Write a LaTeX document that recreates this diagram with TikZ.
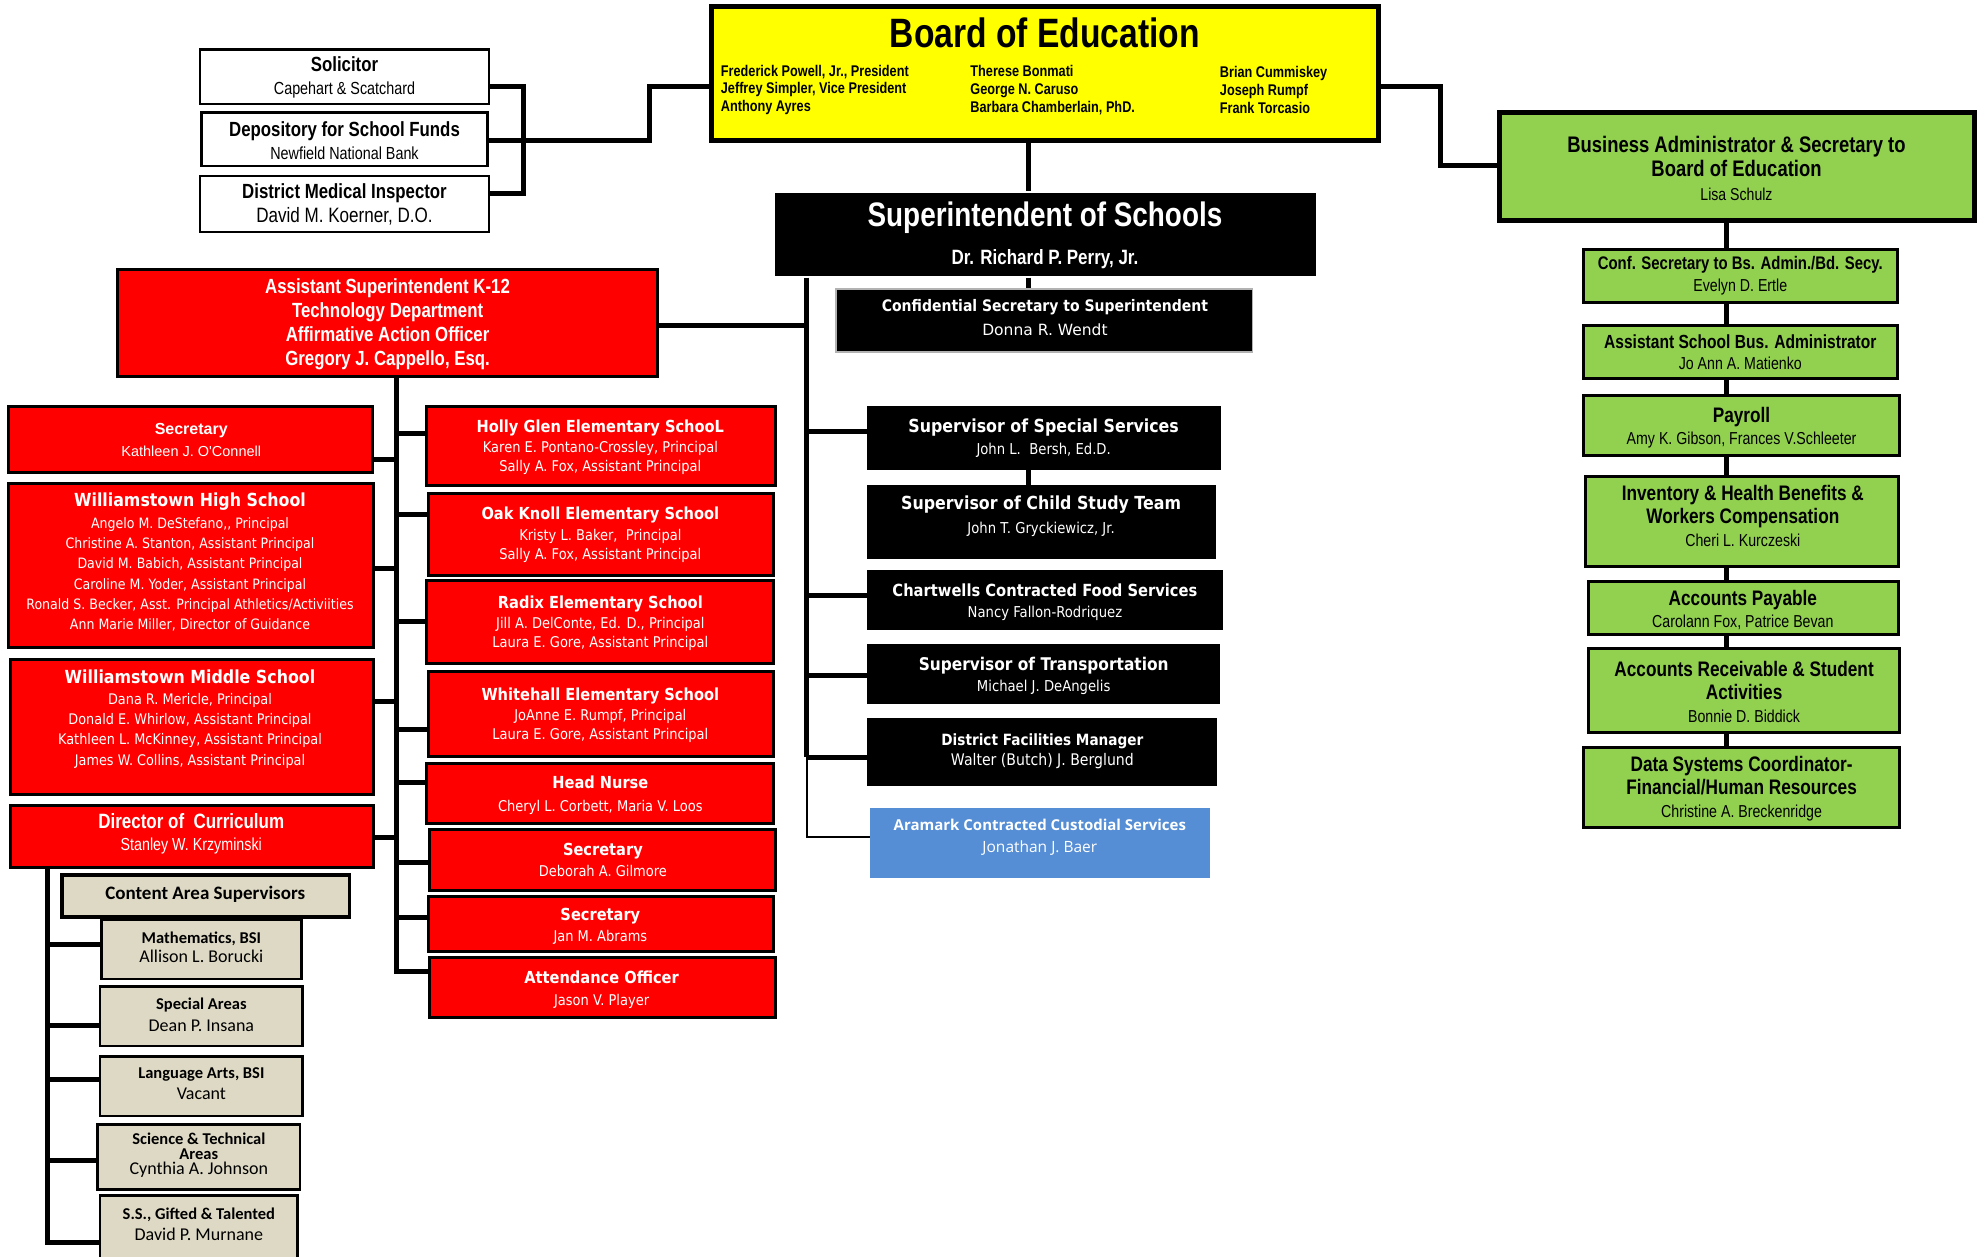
\documentclass[tikz,border=0pt]{standalone}
\usepackage{fontspec}
\usetikzlibrary{fit,backgrounds}
\newfontfamily\fnnar[FakeStretch=0.82]{Liberation Sans}
\newfontfamily\fnari{Liberation Sans}
\newfontfamily\fntah[FakeStretch=0.88]{DejaVu Sans}
\newfontfamily\fnver{DejaVu Sans}
\newfontfamily\fncal{Carlito}
\newfontfamily\fnopn{Open Sans}
\definecolor{bred}{HTML}{FF0000}
\definecolor{byel}{HTML}{FFFF00}
\definecolor{bgrn}{HTML}{92D050}
\definecolor{bbei}{HTML}{DDD9C4}
\definecolor{bblu}{HTML}{558ED5}
\newcommand\fNB[1]{\fnnar\bfseries\fontsize{#1}{#1}\selectfont}
\newcommand\fNR[1]{\fnnar\fontsize{#1}{#1}\selectfont}
\newcommand\fAB[1]{\fnari\bfseries\fontsize{#1}{#1}\selectfont}
\newcommand\fAR[1]{\fnari\fontsize{#1}{#1}\selectfont}
\newcommand\fTB[1]{\fntah\bfseries\fontsize{#1}{#1}\selectfont}
\newcommand\fTR[1]{\fntah\fontsize{#1}{#1}\selectfont}
\newcommand\fVR[1]{\fnver\fontsize{#1}{#1}\selectfont}
\newcommand\fCB[1]{\fncal\bfseries\fontsize{#1}{#1}\selectfont}
\newcommand\fCR[1]{\fncal\fontsize{#1}{#1}\selectfont}
\newcommand\fOB[1]{\fnopn\bfseries\fontsize{#1}{#1}\selectfont}
\newcommand\fOR[1]{\fnopn\fontsize{#1}{#1}\selectfont}
\newcommand\pitch[1]{\fontsize{10}{#1}\selectfont}
\begin{document}
\begin{tikzpicture}[x=1.2666pt, y=-1.2666pt,
  box/.style={draw=black, line width=3pt, inner sep=0pt, line join=miter},
  whb/.style={box, line width=2.5pt, fill=white},
  yelb/.style={box, line width=5pt, fill=byel},
  grnb/.style={box, fill=bgrn},
  redb/.style={box, fill=bred},
  blkb/.style={box, fill=black},
  beib/.style={box, line width=2.5pt, fill=bbei},
  blub/.style={inner sep=0pt, fill=bblu},
  wt/.style={align=center, inner sep=0pt, text=white},
  bt/.style={align=center, inner sep=0pt, text=black},
  conn/.style={line width=5pt, line join=miter},
  thin/.style={line width=2pt, line join=miter}]
\useasboundingbox (0,0) rectangle (1568,992);

% ---------------- top left advisers
\node[whb, fit={(158,39)(386,82)}] (sol) {};
\node[bt, font=\pitch{22.8}] (solt) at (272,61) {{\fNB{20.5}Solicitor}\\{\fNR{17.5}Capehart \& Scatchard}};
\node[whb, fit={(159,89)(385,131)}] (dep) {};
\node[bt, font=\pitch{22.8}] (dept) at (272,111) {{\fNB{20.5}Depository for School Funds}\\{\fNR{17.5}Newfield National Bank}};
\node[whb, fit={(158,139)(386,183)}] (med) {};
\node[bt, font=\pitch{24}] (medt) at (272,161.5) {{\fNB{20.5}District Medical Inspector}\\{\fNR{20.8}David M. Koerner, D.O.}};

% ---------------- board
\node[yelb, fit={(562,5)(1088,111)}] (boe) {};
\node[bt, font=\fNB{41}] (boet) at (825,26) {Board of Education};
\node[bt, align=left, anchor=west, font={\fnnar\bfseries\fontsize{15.5}{17.7}\selectfont}] (boe1) at (569,71) {Frederick Powell, Jr., President\\Jeffrey Simpler, Vice President\\Anthony Ayres};
\node[bt, align=left, anchor=west, font={\fnnar\bfseries\fontsize{15.5}{17.7}\selectfont}] (boe2) at (766,71) {Therese Bonmati\\George N. Caruso\\Barbara Chamberlain, PhD.};
\node[bt, align=left, anchor=west, font={\fnnar\bfseries\fontsize{15.5}{17.7}\selectfont}] (boe3) at (963,71) {Brian Cummiskey\\Joseph Rumpf\\Frank Torcasio};

% ---------------- business column
\node[grnb, line width=4.5pt, fit={(1184,89)(1559,174)}] (bus) {};
\node[bt, font=\pitch{24}] (bust) at (1371,133) {{\fNB{22.5}Business Administrator \& Secretary to}\\{\fNB{22.5}Board of Education}\\{\fNR{17.2}Lisa Schulz}};
\node[grnb, fit={(1250,197)(1498,239)}] (cse) {};
\node[bt, font=\pitch{21.5}] (cset) at (1374,217.5) {{\fNB{18.2}Conf. Secretary to Bs. Admin./Bd. Secy.}\\{\fNR{17.3}Evelyn D. Ertle}};
\node[grnb, fit={(1250,257)(1498,299)}] (asb) {};
\node[bt, font=\pitch{21.5}] (asbt) at (1374,278) {{\fNB{19}Assistant School Bus. Administrator}\\{\fNR{17.3}Jo Ann A. Matienko}};
\node[grnb, fit={(1250,312)(1500,360)}] (pay) {};
\node[bt, font=\pitch{21.5}] (payt) at (1375,337.5) {{\fNB{21}Payroll}\\{\fNR{17.3}Amy K. Gibson, Frances V.Schleeter}};
\node[grnb, fit={(1252,376)(1499,447)}] (inv) {};
\node[bt, font=\pitch{23}] (invt) at (1376,407) {{\fNB{21}Inventory \& Health Benefits \&}\\{\fNB{21}Workers Compensation}\\{\fNR{17.3}Cheri L. Kurczeski}};
\node[grnb, fit={(1254,459)(1499,501)}] (acp) {};
\node[bt, font=\pitch{21.5}] (acpt) at (1376,481.5) {{\fNB{21}Accounts Payable}\\{\fNR{17.3}Carolann Fox, Patrice Bevan}};
\node[grnb, fit={(1254,512)(1500,578)}] (acr) {};
\node[bt, font=\pitch{23}] (acrt) at (1377,546) {{\fNB{21}Accounts Receivable \& Student}\\{\fNB{21}Activities}\\{\fNR{17.3}Bonnie D. Biddick}};
\node[grnb, fit={(1250,590)(1500,653)}] (dsc) {};
\node[bt, font=\pitch{23}] (dsct) at (1375,623) {{\fNB{21}Data Systems Coordinator-}\\{\fNB{21}Financial/Human Resources}\\{\fNR{17.3}Christine A. Breckenridge}};

% ---------------- superintendent column
\node[blkb, draw=none, fit={(612,152)(1039,218)}] (sup) {};
\node[wt, font=\pitch{38}] (supt) at (825,186) {{\fNB{34}Superintendent of Schools}\\{\fNB{20.7}Dr. Richard P. Perry, Jr.}};
\node[blkb, draw=gray!60, line width=1.5pt, fit={(660,228)(989,278)}] (csec) {};
\node[wt, font=\pitch{24}] (csect) at (825,250.5) {{\fTB{15.9}Confidential Secretary to Superintendent}\\{\fVR{15.5}Donna R. Wendt}};
\node[blkb, fit={(686,322)(963,370)}] (sss) {};
\node[wt, font=\pitch{22.8}] (ssst) at (824,346) {{\fTB{18}Supervisor of Special Services}\\{\fTR{15}John L.\ \ Bersh, Ed.D.}};
\node[blkb, fit={(686,384)(959,440)}] (cst) {};
\node[wt, font=\pitch{24}] (cstt) at (822,407.5) {{\fTB{18}Supervisor of Child Study Team}\\{\fTR{15}John T. Gryckiewicz, Jr.}};
\node[blkb, fit={(686,451)(964,496)}] (chw) {};
\node[wt, font=\pitch{21.5}] (chwt) at (825,475.5) {{\fTB{16.7}Chartwells Contracted Food Services}\\{\fTR{15}Nancy Fallon-Rodriquez}};
\node[blkb, fit={(686,510)(962,555)}] (trn) {};
\node[wt, font=\pitch{21.5}] (trnt) at (824,533.5) {{\fTB{17.5}Supervisor of Transportation}\\{\fTR{15}Michael J. DeAngelis}};
\node[blkb, fit={(686,568)(960,619)}] (fac) {};
\node[wt, font=\pitch{20.3}] (fact) at (823,593) {{\fTB{15.5}District Facilities Manager}\\{\fTR{16}Walter (Butch) J. Berglund}};
\node[blub, fit={(687,638)(955,693)}] (ara) {};
\node[wt, font=\pitch{22.8}] (arat) at (821,661) {{\fOB{15}Aramark Contracted Custodial Services}\\{\fOR{15.5}Jonathan J. Baer}};

% ---------------- assistant superintendent
\node[redb, fit={(93,213)(519,297)}] (asup) {};
\node[wt, font=\pitch{23.7}] (asupt) at (306,256) {{\fNB{20.5}Assistant Superintendent K-12}\\{\fNB{20.5}Technology Department}\\{\fNB{20.5}Affirmative Action Officer}\\{\fNB{20.5}Gregory J. Cappello, Esq.}};

% left red column
\node[redb, fit={(7,321)(294,373)}] (lsec) {};
\node[wt, font=\pitch{21.5}] (lsect) at (151,347.5) {{\fAB{16}Secretary}\\{\fAR{14.5}Kathleen J. O'Connell}};
\node[redb, fit={(7,382)(295,511)}] (hs) {};
\node[wt, font=\pitch{20.3}] (hst) at (150,444) {{\fTB{18}Williamstown High School}\\[1pt]{\fTR{14.3}Angelo M. DeStefano,, Principal}\\{\fTR{14.3}Christine A. Stanton, Assistant Principal}\\{\fTR{14.3}David M. Babich, Assistant Principal}\\{\fTR{14.3}Caroline M. Yoder, Assistant Principal}\\{\fTR{14.3}Ronald S. Becker, Asst. Principal Athletics/Activiities}\\{\fTR{14.3}Ann Marie Miller, Director of Guidance}};
\node[redb, fit={(8,521)(295,627)}] (ms) {};
\node[wt, font=\pitch{20.3}] (mst) at (150,567.5) {{\fTB{18}Williamstown Middle School}\\[1pt]{\fTR{14.6}Dana R. Mericle, Principal}\\{\fTR{14.6}Donald E. Whirlow, Assistant Principal}\\{\fTR{14.6}Kathleen L. McKinney, Assistant Principal}\\{\fTR{14.6}James W. Collins, Assistant Principal}};
\node[redb, fit={(8,636)(295,685)}] (dir) {};
\node[wt, font=\pitch{21.5}] (dirt) at (151,658.5) {{\fNB{20.7}Director of\ \ Curriculum}\\{\fNR{17.4}Stanley W. Krzyminski}};

% right red column
\node[redb, fit={(337,321)(612,383)}] (hg) {};
\node[wt, font=\pitch{19}] (hgt) at (474,353) {{\fTB{16.6}Holly Glen Elementary SchooL}\\[1.5pt]{\fTR{14.8}Karen E. Pontano-Crossley, Principal}\\{\fTR{14.8}Sally A. Fox, Assistant Principal}};
\node[redb, fit={(338,390)(611,454)}] (ok) {};
\node[wt, font=\pitch{19}] (okt) at (474,422) {{\fTB{16.6}Oak Knoll Elementary School}\\[1.5pt]{\fTR{14.8}Kristy L. Baker,\ \ Principal}\\{\fTR{14.8}Sally A. Fox, Assistant Principal}};
\node[redb, fit={(337,458)(611,524)}] (rad) {};
\node[wt, font=\pitch{19}] (radt) at (474,492) {{\fTB{16.6}Radix Elementary School}\\[1.5pt]{\fTR{14.8}Jill A. DelConte, Ed. D., Principal}\\{\fTR{14.8}Laura E. Gore, Assistant Principal}};
\node[redb, fit={(338,530)(611,597)}] (wh) {};
\node[wt, font=\pitch{19}] (wht) at (474,564.5) {{\fTB{16.6}Whitehall Elementary School}\\[1.5pt]{\fTR{14.8}JoAnne E. Rumpf, Principal}\\{\fTR{14.8}Laura E. Gore, Assistant Principal}};
\node[redb, fit={(337,603)(611,650)}] (hn) {};
\node[wt, font=\pitch{22.8}] (hnt) at (474,628) {{\fTB{16.6}Head Nurse}\\{\fTR{14.8}Cheryl L. Corbett, Maria V. Loos}};
\node[redb, fit={(339,655)(612,703)}] (sd) {};
\node[wt, font=\pitch{20.3}] (sdt) at (476,679) {{\fTB{16.6}Secretary}\\{\fTR{14.8}Deborah A. Gilmore}};
\node[redb, fit={(338,708)(611,751)}] (sj) {};
\node[wt, font=\pitch{21.5}] (sjt) at (474,731.5) {{\fTB{16.6}Secretary}\\{\fTR{14.8}Jan M. Abrams}};
\node[redb, fit={(339,756)(612,803)}] (ao) {};
\node[wt, font=\pitch{21.5}] (aot) at (475,781.5) {{\fTB{16.6}Attendance Officer}\\{\fTR{14.8}Jason V. Player}};

% ---------------- content area supervisors
\node[beib, line width=3.5pt, fit={(49,691)(276,724)}] (cas) {};
\node[bt, font=\fCB{19}] (cast) at (162,706) {Content Area Supervisors};
\node[beib, fit={(80,726)(238,773)}] (mat) {};
\node[bt, font=\pitch{19.5}] (matt) at (159,748) {{\fCB{16.5}Mathematics, BSI}\\{\fCR{18}Allison L. Borucki}};
\node[beib, fit={(79,779)(239,826)}] (spa) {};
\node[bt, font=\pitch{22}] (spat) at (159,801) {{\fCB{16.5}Special Areas}\\{\fCR{18}Dean P. Insana}};
\node[beib, fit={(79,834)(239,881)}] (lan) {};
\node[bt, font=\pitch{21.5}] (lant) at (159,855.5) {{\fCB{16.5}Language Arts, BSI}\\{\fCR{18}Vacant}};
\node[beib, fit={(77,888)(237,939)}] (sci) {};
\node[bt, font=\pitch{15.2}] (scit) at (157,912) {{\fCB{16.5}Science \& Technical}\\{\fCB{16.5}Areas}\\{\fCR{18}Cynthia A. Johnson}};
\node[beib, fit={(79,944)(235,1002)}] (ssg) {};
\node[bt, font=\pitch{21.5}] (ssgt) at (157,966.5) {{\fCB{16.5}S.S., Gifted \& Talented}\\{\fCR{18}David P. Murnane}};

% ---------------- junction coordinates
\coordinate (jsol) at (413,111);
\coordinate (jbus) at (1137,68);
\coordinate (jsup) at (637,598);
\coordinate (jred) at (313,767);
\coordinate (jcur) at (37.6,980.6);

\begin{pgfonlayer}{background}
\fill[white] (0,0) rectangle (1568,992);
\draw[conn] (sol.east |- 0,68) -- (413,68) -- (413,153) -- (med.east |- 0,153);
\draw[conn] (dep.east |- jsol) -- (jsol) -- (513,111) -- (513,68) -- (boe.west |- 0,68);
\draw[conn] (boe.east |- jbus) -- (jbus) -- (1137,131) -- (bus.west |- 0,131);
\draw[conn] (boe.south -| 812,0) -- (sup.north -| 812,0);
\draw[conn] (sup.south -| 812,0) -- (csec.north -| 812,0);
\draw[conn] (sss.south -| 812,0) -- (cst.north -| 812,0);
\draw[conn] (bus.south -| 1363,0) -- (dsc.north -| 1363,0);
% superintendent trunk
\draw[conn] (sup.south -| jsup) -- (jsup);
\draw[conn] (asup.east |- 0,257) -- (637,257);
\draw[conn] (637,341) -- (sss.west |- 0,341);
\draw[conn] (637,470) -- (chw.west |- 0,470);
\draw[conn] (637,533) -- (trn.west |- 0,533);
\draw[conn] (jsup) -- (fac.west |- jsup);
\draw[thin] (jsup) -- (637,661) -- (ara.west |- 0,661);
% red trunk
\draw[conn] (asup.south -| jred) -- (jred) -- (ao.west |- jred);
\draw[conn] (lsec.east |- 0,363) -- (313,363);
\draw[conn] (hs.east |- 0,449) -- (313,449);
\draw[conn] (ms.east |- 0,554) -- (313,554);
\draw[conn] (dir.east |- 0,661) -- (313,661);
\draw[conn] (313,342.5) -- (hg.west |- 0,342.5);
\draw[conn] (313,406) -- (ok.west |- 0,406);
\draw[conn] (313,491) -- (rad.west |- 0,491);
\draw[conn] (313,576) -- (wh.west |- 0,576);
\draw[conn] (313,618) -- (hn.west |- 0,618);
\draw[conn] (313,681) -- (sd.west |- 0,681);
\draw[conn] (313,724) -- (sj.west |- 0,724);
% curriculum trunk
\draw[conn] (dir.south -| jcur) -- (jcur) -- (ssg.west |- jcur);
\draw[conn] (37.6,746) -- (mat.west |- 0,746);
\draw[conn] (37.6,810) -- (spa.west |- 0,810);
\draw[conn] (37.6,852) -- (lan.west |- 0,852);
\draw[conn] (37.6,916) -- (sci.west |- 0,916);
\end{pgfonlayer}
\end{tikzpicture}
\end{document}
